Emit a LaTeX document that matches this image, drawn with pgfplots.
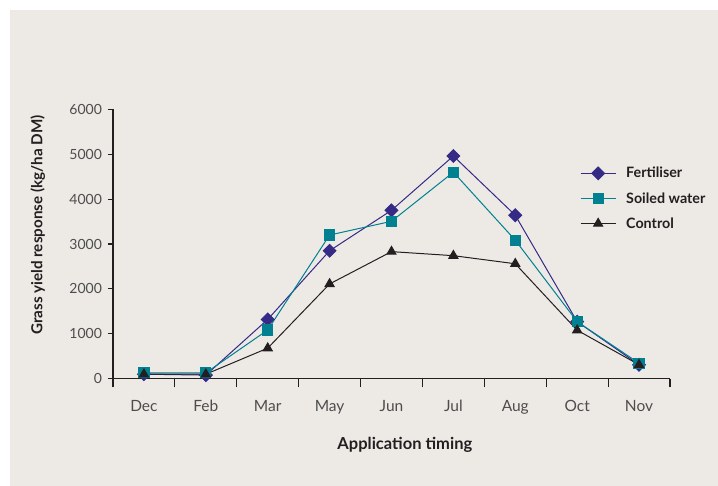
\documentclass[border=0pt]{standalone}
\usepackage{fontspec}
\setmainfont{Lato}
\usepackage{pgfplots}
\pgfplotsset{compat=1.18}

\definecolor{panel}{RGB}{237,234,230}
\definecolor{fert}{RGB}{53,42,134}
\definecolor{soil}{RGB}{0,128,145}
\definecolor{ctrl}{RGB}{35,31,32}
\definecolor{ticktext}{RGB}{77,77,77}

\begin{document}
\begin{tikzpicture}
% page background and grey panel
\fill[white] (-113pt,-107.3pt) rectangle (605pt,378.7pt);
\fill[panel] (-103pt,-107.3pt) rectangle (605pt,368.7pt);
\begin{axis}[
    at={(0pt,0pt)}, anchor=south west,
    scale only axis, width=557pt, height=269.4pt,
    xmin=-0.5, xmax=8.5, ymin=0, ymax=6000,
    axis x line*=bottom, axis y line*=left,
    axis line style={line width=1.1pt, ctrl, -},
    xtick={0,...,8},
    xticklabels={Dec,Feb,Mar,May,Jun,Jul,Aug,Oct,Nov},
    minor xtick={-0.5,0.5,...,8.5},
    ytick={0,1000,...,6000},
    scaled y ticks=false,
    /pgf/number format/1000 sep={},
    /pgf/number format/assume math mode=true,
    tick align=outside,
    major tick length=4.5pt, minor tick length=8.7pt,
    tick style={line width=1.1pt, ctrl},
    major x tick style={draw=none},
    ticklabel style={font=\fontsize{14}{16}\selectfont, text=ticktext},
    xticklabel style={font=\fontsize{15.5}{18}\selectfont, anchor=base, yshift=-28.8pt},
    yticklabel style={xshift=-3pt},
    xlabel={Application timing},
    ylabel={Grass yield response (kg/ha DM)},
    xlabel style={at={(axis description cs:0.524,-0.262)}, anchor=base,
        font=\fontsize{16.5}{19}\selectfont\bfseries, text=ctrl},
    ylabel style={at={(axis description cs:-0.135,0.57)}, anchor=center,
        font=\fontsize{15.2}{18}\selectfont\bfseries, text=ctrl},
    legend style={draw=none, fill=none, at={(rel axis cs:0.8384,0.793)},
        anchor=north west, inner sep=0pt, row sep=9pt, column sep=8pt,
        font=\fontsize{14.3}{16}\selectfont\bfseries, text=ctrl},
    legend cell align=left,
    legend image code/.code={
        \draw[mark repeat=2,mark phase=2] plot coordinates {(0pt,0pt) (17.5pt,0pt) (35pt,0pt)};
    },
]
\addplot[fert, line width=1pt, mark=square*, mark size=4.5pt,
    mark options={rotate=45, solid}] coordinates {
    (0,100) (1,80) (2,1320) (3,2850) (4,3750) (5,4960) (6,3640) (7,1270) (8,310)
};
\addlegendentry{Fertiliser}
\addplot[soil, line width=1pt, mark=square*, mark size=5.1pt,
    mark options={solid}] coordinates {
    (0,130) (1,130) (2,1085) (3,3200) (4,3505) (5,4600) (6,3085) (7,1270) (8,345)
};
\addlegendentry{Soiled water}
\addplot[ctrl, line width=1pt, mark=triangle*, mark size=5.2pt,
    mark options={solid}] coordinates {
    (0,100) (1,100) (2,680) (3,2110) (4,2830) (5,2740) (6,2560) (7,1080) (8,310)
};
\addlegendentry{Control}
\end{axis}
\end{tikzpicture}
\end{document}
